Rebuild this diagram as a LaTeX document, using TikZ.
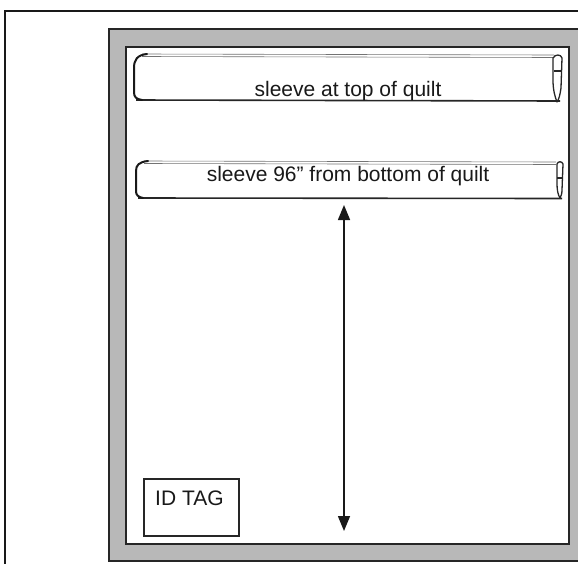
\documentclass[tikz,border=0pt]{standalone}
\usepackage{fontspec}
\setmainfont{Liberation Sans}[Ligatures=ResetAll]
\usetikzlibrary{arrows.meta}
\begin{document}
\begin{tikzpicture}[x=1pt,y=-1pt,
  lbl/.style={font=\fontsize{21}{25}\selectfont, text=black!90, inner sep=0pt, anchor=base},
  edge/.style={line width=2.6pt, black!85},
  seam/.style={line width=0.6pt, black!55},
  hem/.style={line width=1.6pt, black!85},
  curl/.style={line width=2pt, black!90, line cap=round},
  roll/.style={line width=1.3pt, black!85, line join=round},
  measure/.style={line width=1.5pt, black!90, >={Triangle[width=12pt,length=15pt]}, <->}]
\useasboundingbox (0,0) rectangle (578,563);
\clip (0,0) rectangle (578,563);
\fill[white] (0,0) rectangle (578,563);
% outer page frame
\draw[line width=2pt, black!90] (5,11) rectangle (610,610);
% quilt border band
\fill[black!28] (109,29) rectangle (610,561);
\fill[white] (126,47) rectangle (569,544);
\draw[edge] (109,29) rectangle (610,561);
\draw[edge] (126,47) rectangle (569,544);
% sleeve at top
\draw[seam] (142,54) -- (554,55);
\draw[seam] (142,56.5) -- (554,57.5);
\draw[hem] (136,100) -- (560,101);
\draw[curl] (147,54) .. controls (137,55) and (134,60) .. (134,68) -- (134,92) .. controls (134,97) and (136,99) .. (142,100);
\draw[roll] (553,58) .. controls (555,54) and (561,54) .. (562,58) -- (561,88) .. controls (560,95) and (559,99) .. (557,102) .. controls (555,97) and (553,90) .. (553,80) -- cycle;
\draw[roll] (554,71) -- (561,71);
\node[lbl] (t1) at (348,96) {sleeve at top of quilt};
% sleeve 96" from bottom
\draw[seam] (144,161) -- (556,162);
\draw[seam] (144,163.5) -- (556,164.5);
\draw[hem] (138,198) -- (562,198.5);
\draw[curl] (148,161) .. controls (139,162) and (136,165) .. (136,171) -- (136,191) .. controls (136,195) and (138,197) .. (143,198);
\draw[roll] (557,164) .. controls (558,161) and (562,161) .. (563,164) -- (562,190) .. controls (562,194) and (561,196) .. (560,198) .. controls (558,195) and (557,190) .. (557,184) -- cycle;
\draw[roll] (557,178) -- (562,178);
\node[lbl] (t2) at (348,181) {sleeve 96" from bottom of quilt};
% measuring arrow
\coordinate (atop) at (344,205);
\coordinate (abot) at (344,531);
\draw[measure] (atop) -- (abot);
% ID tag
\node[draw, line width=1.5pt, black!85, minimum width=95pt, minimum height=57pt, anchor=north west, inner sep=0pt] (tag) at (143,478) {};
\node[lbl, anchor=base west] (tagtxt) at (155,505) {ID TAG};
\end{tikzpicture}
\end{document}
